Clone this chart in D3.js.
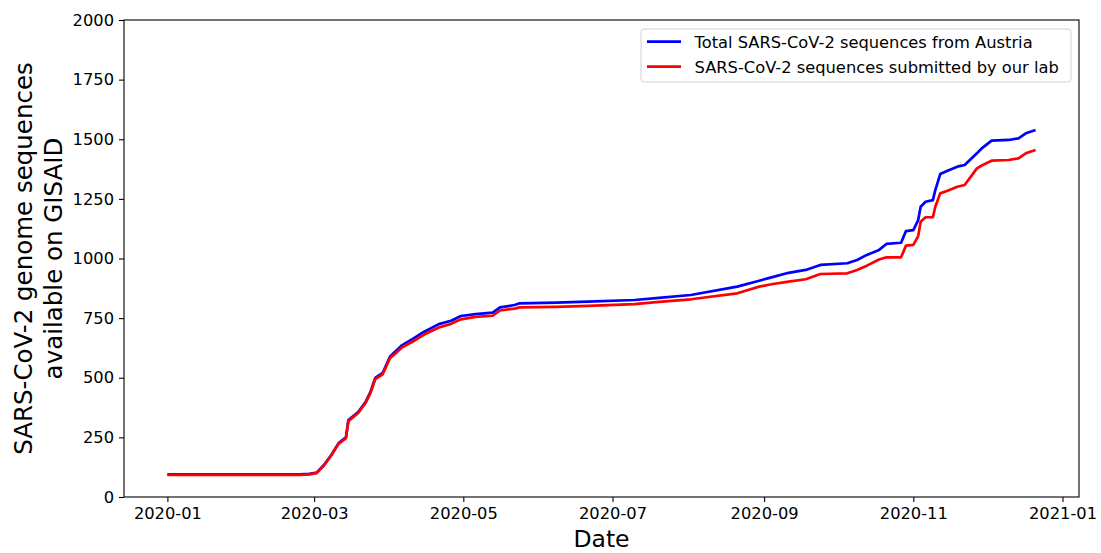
<!DOCTYPE html>
<html>
<head>
<meta charset="utf-8">
<script src="https://cdn.jsdelivr.net/npm/d3@7"></script>
<style>
  body { margin: 0; background: #fff; }
  svg { font-family: "DejaVu Sans", sans-serif; }
</style>
</head>
<body>
<svg id="chart" width="1101" height="553"></svg>
<script>
const dates = [
  "2020-01-01", "2020-02-24", "2020-02-28", "2020-03-02", "2020-03-05", "2020-03-08",
  "2020-03-11", "2020-03-14", "2020-03-15", "2020-03-19", "2020-03-22", "2020-03-24",
  "2020-03-26", "2020-03-29", "2020-04-01", "2020-04-03", "2020-04-06", "2020-04-10",
  "2020-04-15", "2020-04-21", "2020-04-26", "2020-04-30", "2020-05-06", "2020-05-13",
  "2020-05-16", "2020-05-22", "2020-05-24", "2020-06-08", "2020-06-21", "2020-07-10",
  "2020-07-20", "2020-08-02", "2020-08-21", "2020-08-30", "2020-09-04", "2020-09-11",
  "2020-09-18", "2020-09-24", "2020-10-05", "2020-10-09", "2020-10-13", "2020-10-18",
  "2020-10-21", "2020-10-27", "2020-10-29", "2020-11-01", "2020-11-03", "2020-11-04",
  "2020-11-06", "2020-11-09", "2020-11-10", "2020-11-12", "2020-11-15", "2020-11-19",
  "2020-11-22", "2020-11-27", "2020-11-29", "2020-12-03", "2020-12-10", "2020-12-14",
  "2020-12-17", "2020-12-21"
];
const totalAustria = [
  95, 95, 97, 102, 134, 176,
  226, 250, 323, 356, 398, 440,
  499, 520, 588, 608, 637, 661,
  693, 725, 739, 759, 767, 773,
  795, 805, 812, 815, 819, 826,
  835, 847, 882, 907, 921, 940,
  952, 973, 980, 994, 1015, 1036,
  1061, 1066, 1115, 1119, 1161, 1217,
  1238, 1245, 1287, 1354, 1368, 1385,
  1392, 1441, 1462, 1494, 1497, 1504,
  1525, 1539
];
const ourLab = [
  93, 93, 95, 100, 132, 174,
  223, 247, 318, 352, 394, 435,
  494, 514, 582, 600, 628, 650,
  681, 711, 726, 745, 755, 760,
  782, 790, 795, 797, 801, 809,
  818, 829, 854, 882, 892, 903,
  913, 935, 938, 952, 970, 996,
  1005, 1005, 1054, 1057, 1094, 1154,
  1173, 1173, 1217, 1273, 1284, 1301,
  1308, 1378, 1390, 1410, 1413, 1420,
  1441, 1455
];
const yTicks = [0, 250, 500, 750, 1000, 1250, 1500, 1750, 2000];
const seriesNames = ["Total SARS-CoV-2 sequences from Austria", "SARS-CoV-2 sequences submitted by our lab"];
const seriesColors = ["#0000ff", "#ff0000"];

const parse = d3.timeParse("%Y-%m-%d");
const series = [totalAustria, ourLab].map(vals => vals.map((v, i) => ({date: parse(dates[i]), value: v})));

const W = 1101, H = 553;
const margin = {top: 20, right: 22, bottom: 56, left: 124};
const w = W - margin.left - margin.right;
const h = H - margin.top - margin.bottom;

const svg = d3.select("#chart");
const g = svg.append("g").attr("transform", `translate(${margin.left},${margin.top})`);

// x 比例尺: 数据范围两侧各留 5%
const ext = d3.extent(series[0], d => d.date);
const pad = (ext[1] - ext[0]) * 0.05;
const x = d3.scaleTime().domain([new Date(+ext[0] - pad), new Date(+ext[1] + pad)]).range([0, w]);
const y = d3.scaleLinear().domain([0, 2000]).range([h, 0]);

// 曲线
const line = d3.line().x(d => x(d.date)).y(d => y(d.value));
series.forEach((s, i) => {
  g.append("path")
    .datum(s)
    .attr("fill", "none")
    .attr("stroke", seriesColors[i])
    .attr("stroke-width", 2.7)
    .attr("stroke-linejoin", "round")
    .attr("d", line);
});

// 坐标轴
const xAxis = g.append("g")
  .attr("transform", `translate(0,${h})`)
  .call(d3.axisBottom(x).ticks(d3.timeMonth.every(2)).tickFormat(d3.timeFormat("%Y-%m")).tickSize(5).tickPadding(5));
const yAxis = g.append("g")
  .call(d3.axisLeft(y).tickValues(yTicks).tickFormat(d3.format("d")).tickSize(5).tickPadding(5));
[xAxis, yAxis].forEach(a => {
  a.select(".domain").remove();
  a.selectAll("text").attr("font-size", 16.3).attr("font-family", "DejaVu Sans").attr("fill", "#000");
  a.selectAll("line").attr("stroke", "#000").attr("stroke-width", 1.1);
});

// 边框
g.append("rect")
  .attr("width", w).attr("height", h)
  .attr("fill", "none").attr("stroke", "#000").attr("stroke-width", 1.1);

// 轴标题
svg.append("text")
  .attr("x", margin.left + w / 2).attr("y", 547)
  .attr("text-anchor", "middle").attr("font-size", 23.5)
  .text("Date");
const yl = svg.append("text")
  .attr("transform", `translate(0,${margin.top + h / 2}) rotate(-90)`)
  .attr("text-anchor", "middle").attr("font-size", 24.5);
yl.append("tspan").attr("x", 0).attr("y", 32).text("SARS-CoV-2 genome sequences");
yl.append("tspan").attr("x", 0).attr("y", 62).text("available on GISAID");

// 图例
const lg = svg.append("g").attr("transform", "translate(641,29)");
lg.append("rect")
  .attr("width", 430).attr("height", 53).attr("rx", 3)
  .attr("fill", "#fff").attr("stroke", "#d0d0d0").attr("stroke-width", 1);
seriesNames.forEach((name, i) => {
  const yy = 12.7 + i * 25;
  lg.append("line").attr("x1", 6).attr("x2", 40).attr("y1", yy).attr("y2", yy)
    .attr("stroke", seriesColors[i]).attr("stroke-width", 2.7);
  lg.append("text").attr("x", 53.5).attr("y", yy + 6.6).attr("font-size", 16.3).text(name);
});
</script>
</body>
</html>
